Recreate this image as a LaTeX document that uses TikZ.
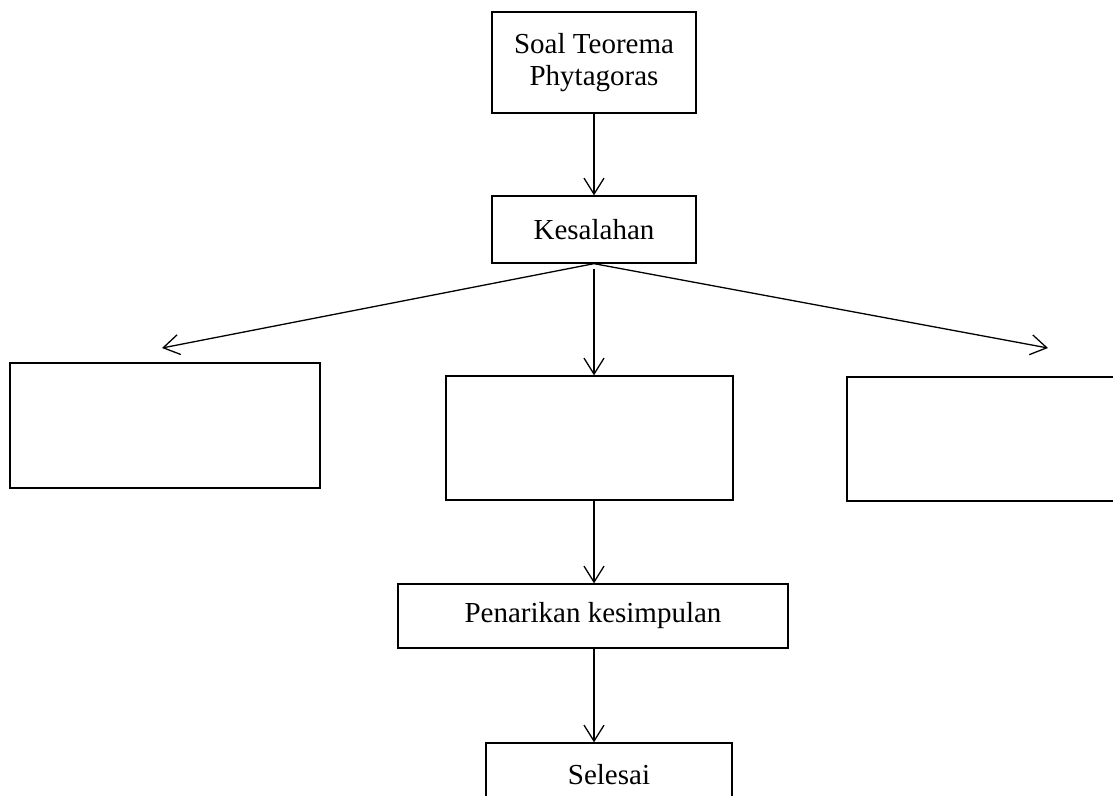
\documentclass[tikz,border=0pt]{standalone}
\usepackage{fontspec}
\setmainfont{Liberation Serif}
\usetikzlibrary{arrows.meta}
\begin{document}
\begin{tikzpicture}[x=1pt,y=-1pt,
  box/.style={draw,line width=1.3pt,rectangle,inner sep=0pt,align=center,
    font=\fontsize{29}{32}\selectfont},
  arr/.style={line width=1.3pt,-{Straight Barb[length=16pt,width=20pt,line width=1.3pt]}}]
\useasboundingbox (0,0) rectangle (1113,795);
\clip (0,0) rectangle (1113,795);
\node[box,minimum width=204pt,minimum height=101pt] (top) at (594,62.5) {Soal Teorema\\Phytagoras};
\node[box,minimum width=204pt,minimum height=67pt] (kes) at (594,229.5) {Kesalahan};
\node[box,minimum width=310pt,minimum height=125pt] (left) at (165,425.5) {};
\node[box,minimum width=287pt,minimum height=124pt] (mid) at (589.5,438) {};
\node[box,minimum width=283pt,minimum height=124pt] (right) at (988.5,439) {};
\node[box,minimum width=390pt,minimum height=64pt] (pen) at (593,616) {Penarikan kesimpulan};
\node[box,minimum width=246pt,minimum height=64pt] (sel) at (609,775) {Selesai};
\coordinate (lt) at (162,348);
\coordinate (rt) at (1048,348);
\draw[arr] (top.south -| kes.south) -- (kes.north);
\draw[arr] (kes.south) -- (lt);
\draw[arr] (kes.south) -- (rt);
\draw[arr] ([yshift=-5pt]kes.south) -- (kes.south |- mid.north);
\draw[arr] (kes.south |- mid.south) -- (kes.south |- pen.north);
\draw[arr] (kes.south |- pen.south) -- (kes.south |- sel.north);
\end{tikzpicture}
\end{document}
